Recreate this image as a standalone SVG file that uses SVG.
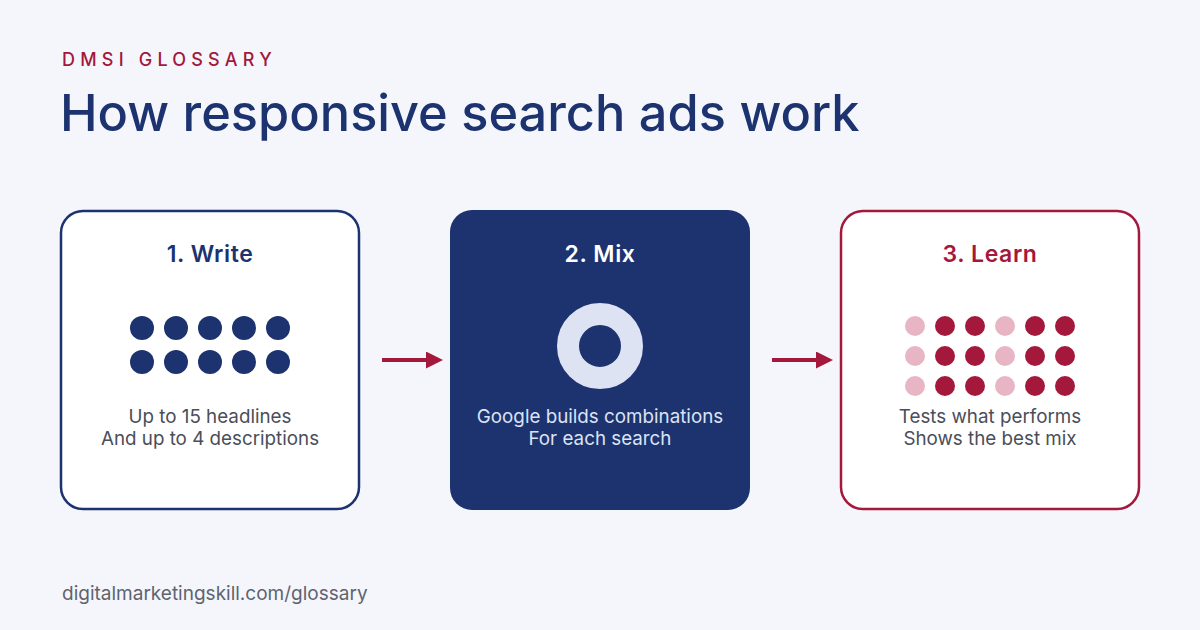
<svg xmlns="http://www.w3.org/2000/svg" width="1200" height="630" viewBox="0 0 1200 630">
<defs>
<style>
.kicker{font-family:Inter,"Noto Sans",sans-serif;font-size:18px;font-weight:500;letter-spacing:5.2px;fill:#a3183b}
.title{font-family:Inter,"Noto Sans",sans-serif;font-size:50.5px;font-weight:500;fill:#1c3370}
.ctitle{font-family:Inter,"Noto Sans",sans-serif;font-size:23px;font-weight:600;letter-spacing:0.6px;text-anchor:middle}
.body{font-family:Inter,"Noto Sans",sans-serif;font-size:18.8px;text-anchor:middle;fill:#4a4e5a}
.foot{font-family:Inter,"Noto Sans",sans-serif;font-size:19px;fill:#5f6370}
.navy{fill:#1c3370}
.red{fill:#a3183b}
.pink{fill:#e8b5c4}
</style>
<marker id="ah" viewBox="0 0 10 10" refX="0" refY="5" markerWidth="17" markerHeight="17" markerUnits="userSpaceOnUse" orient="auto">
<path d="M0,0 L10,5 L0,10 Z" fill="#a3183b"/>
</marker>
</defs>
<rect width="1200" height="630" fill="#f4f6fb"/>
<text class="kicker" x="62" y="66">DMSI GLOSSARY</text>
<text class="title" x="60" y="131">How responsive search ads work</text>

<g id="connectors" stroke="#a3183b" stroke-width="4" fill="none">
<line x1="382" y1="360" x2="426" y2="360" marker-end="url(#ah)"/>
<line x1="772" y1="360" x2="816" y2="360" marker-end="url(#ah)"/>
</g>

<g id="write">
<rect x="61" y="211" width="298" height="298" rx="22" fill="#ffffff" stroke="#1c3370" stroke-width="2.5"/>
<text class="ctitle" x="210" y="262" fill="#1c3370">1. Write</text>
<g class="navy">
<circle cx="142" cy="328" r="12"/><circle cx="176" cy="328" r="12"/><circle cx="210" cy="328" r="12"/><circle cx="244" cy="328" r="12"/><circle cx="278" cy="328" r="12"/>
<circle cx="142" cy="362" r="12"/><circle cx="176" cy="362" r="12"/><circle cx="210" cy="362" r="12"/><circle cx="244" cy="362" r="12"/><circle cx="278" cy="362" r="12"/>
</g>
<text class="body" x="210" y="423">Up to 15 headlines</text>
<text class="body" x="210" y="445">And up to 4 descriptions</text>
</g>

<g id="mix">
<rect x="450" y="210" width="300" height="300" rx="22" fill="#1c3370"/>
<text class="ctitle" x="600" y="262" fill="#ffffff">2. Mix</text>
<circle cx="600" cy="346" r="32" fill="none" stroke="#dde3f3" stroke-width="22"/>
<text class="body" x="600" y="423" style="fill:#dde3f3">Google builds combinations</text>
<text class="body" x="600" y="445" style="fill:#dde3f3">For each search</text>
</g>

<g id="learn">
<rect x="841" y="211" width="298" height="298" rx="22" fill="#ffffff" stroke="#a3183b" stroke-width="2.5"/>
<text class="ctitle" x="990" y="262" fill="#a3183b">3. Learn</text>
<g>
<circle class="pink" cx="915" cy="326" r="10"/><circle class="red" cx="945" cy="326" r="10"/><circle class="red" cx="975" cy="326" r="10"/><circle class="pink" cx="1005" cy="326" r="10"/><circle class="red" cx="1035" cy="326" r="10"/><circle class="red" cx="1065" cy="326" r="10"/>
<circle class="pink" cx="915" cy="356" r="10"/><circle class="red" cx="945" cy="356" r="10"/><circle class="red" cx="975" cy="356" r="10"/><circle class="pink" cx="1005" cy="356" r="10"/><circle class="red" cx="1035" cy="356" r="10"/><circle class="red" cx="1065" cy="356" r="10"/>
<circle class="pink" cx="915" cy="386" r="10"/><circle class="red" cx="945" cy="386" r="10"/><circle class="red" cx="975" cy="386" r="10"/><circle class="pink" cx="1005" cy="386" r="10"/><circle class="red" cx="1035" cy="386" r="10"/><circle class="red" cx="1065" cy="386" r="10"/>
</g>
<text class="body" x="990" y="423">Tests what performs</text>
<text class="body" x="990" y="445">Shows the best mix</text>
</g>

<text class="foot" x="62" y="600">digitalmarketingskill.com/glossary</text>
</svg>
